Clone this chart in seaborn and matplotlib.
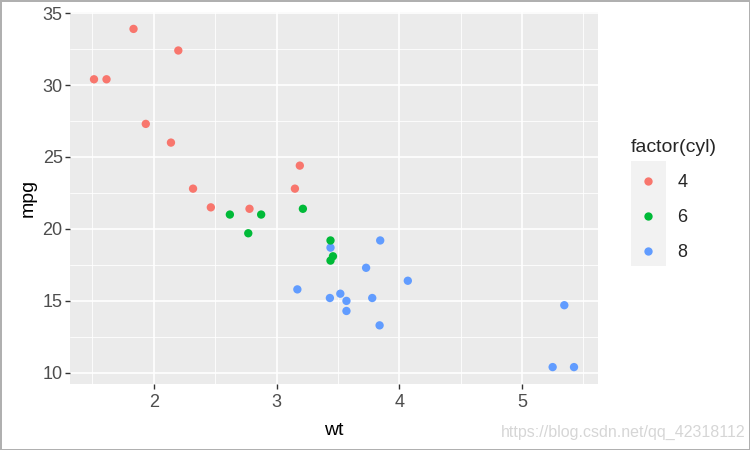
import matplotlib
matplotlib.use('Agg')
import matplotlib.pyplot as plt
import seaborn as sns
import pandas as pd
from matplotlib.patches import Rectangle
from matplotlib.ticker import MultipleLocator

# mtcars: weight, miles per gallon, cylinders
wt = [2.620, 2.875, 2.320, 3.215, 3.440, 3.460, 3.570, 3.190, 3.150, 3.440,
      3.440, 4.070, 3.730, 3.780, 5.250, 5.424, 5.345, 2.200, 1.615, 1.835,
      2.465, 3.520, 3.435, 3.840, 3.845, 1.935, 2.140, 1.513, 3.170, 2.770,
      3.570, 2.780]
mpg = [21.0, 21.0, 22.8, 21.4, 18.7, 18.1, 14.3, 24.4, 22.8, 19.2,
       17.8, 16.4, 17.3, 15.2, 10.4, 10.4, 14.7, 32.4, 30.4, 33.9,
       21.5, 15.5, 15.2, 13.3, 19.2, 27.3, 26.0, 30.4, 15.8, 19.7,
       15.0, 21.4]
cyl = [6, 6, 4, 6, 8, 6, 8, 4, 4, 6,
       6, 8, 8, 8, 8, 8, 8, 4, 4, 4,
       4, 8, 8, 8, 8, 4, 4, 4, 8, 6,
       8, 4]
cyl_levels = ['4', '6', '8']
palette = ['#F8766D', '#00BA38', '#619CFF']

sns.set_theme(style='white')
plt.rcParams['font.family'] = ['Liberation Sans', 'DejaVu Sans']

W, H = 750, 450
fig = plt.figure(figsize=(7.5, 4.5), dpi=100)
fig.patch.set_facecolor('white')
fig.patch.set_edgecolor('#B0B0B0')
fig.patch.set_linewidth(2)

L, R, T, B = 70, 598, 12, 384
ax = fig.add_axes([L / W, 1 - B / H, (R - L) / W, (B - T) / H])

df = pd.DataFrame({'wt': wt, 'mpg': mpg, 'cyl': [str(c) for c in cyl]})
sns.scatterplot(data=df, x='wt', y='mpg', hue='cyl', hue_order=cyl_levels,
                palette=palette, s=36, edgecolor='none', linewidth=0,
                ax=ax, legend=True, zorder=3)

ax.set_facecolor('#EBEBEB')
for sp in ax.spines.values():
    sp.set_visible(False)

xr = max(wt) - min(wt)
yr = max(mpg) - min(mpg)
ax.set_xlim(min(wt) - 0.05 * xr, max(wt) + 0.05 * xr)
ax.set_ylim(min(mpg) - 0.05 * yr, max(mpg) + 0.05 * yr)
ax.xaxis.set_major_locator(MultipleLocator(1))
ax.xaxis.set_minor_locator(MultipleLocator(0.5))
ax.yaxis.set_major_locator(MultipleLocator(5))
ax.yaxis.set_minor_locator(MultipleLocator(2.5))
ax.set_axisbelow(True)
ax.grid(which='major', color='white', linewidth=1.2)
ax.grid(which='minor', color='white', linewidth=0.6)
ax.tick_params(which='major', length=3.8, width=1, color='#333333',
               labelcolor='#4D4D4D', labelsize=13, bottom=True, left=True)
ax.tick_params(axis='x', which='major', pad=3.3)
ax.tick_params(axis='y', which='major', pad=1.5)
ax.tick_params(which='minor', length=0)

ax.set_xlabel('wt', fontsize=14, color='black', labelpad=8)
ax.set_ylabel('mpg', fontsize=14, color='black', labelpad=4)

handles, labels = ax.get_legend_handles_labels()
ax.get_legend().remove()
for h in handles:
    try:
        h.set_markersize(6)
    except Exception:
        pass

# legend key background
fig.add_artist(Rectangle((631 / W, 1 - 266 / H), 35 / W, 105 / H,
                         transform=fig.transFigure, facecolor='#F2F2F2',
                         edgecolor='none', zorder=2))
leg = fig.legend(handles, labels, title='factor(cyl)', loc='upper left',
                 bbox_to_anchor=(624 / W, 1 - 132 / H), frameon=False,
                 fontsize=13, title_fontsize=14, handlelength=1.9,
                 handletextpad=0.65, labelspacing=1.0, borderaxespad=0)
leg._legend_box.align = 'left'
leg.set_zorder(5)

fig.text(745 / W, 1 - 432 / H, 'https://blog.csdn.net/qq_42318112',
         ha='right', va='center', fontsize=11.5, color='#D6D6D6')

fig.savefig('out.png', dpi=100, facecolor='white',
            edgecolor=fig.get_edgecolor())
